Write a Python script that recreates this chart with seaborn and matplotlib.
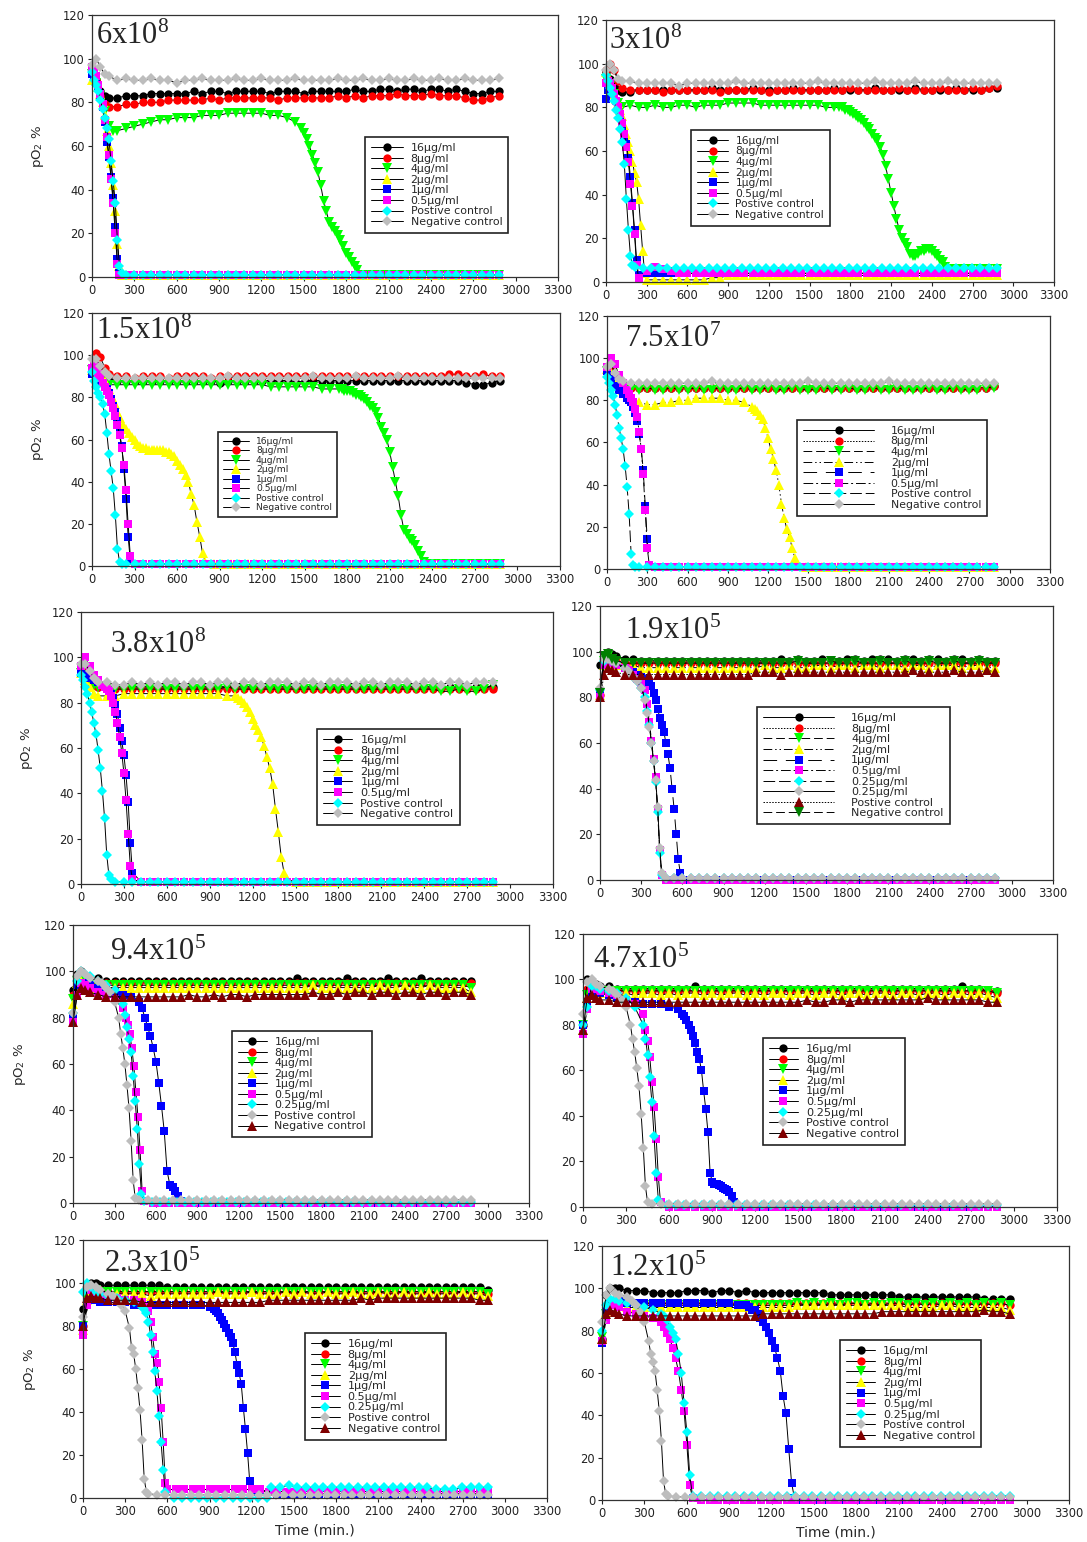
import numpy as np
import pandas as pd
import matplotlib
matplotlib.use("Agg")
import matplotlib.pyplot as plt
import seaborn as sns

# ======================= DATA (time in min, pO2 in %) =======================
# each series: list of segments (t_start, t_end, values sampled evenly in between)
X_TICKS = [0, 300, 600, 900, 1200, 1500, 1800, 2100, 2400, 2700, 3000, 3300]
Y_TICKS = [0, 20, 40, 60, 80, 100, 120]

LABELS_8 = ["16µg/ml", "8µg/ml", "4µg/ml", "2µg/ml", "1µg/ml", "0.5µg/ml",
            "Postive control", "Negative control"]
LABELS_9 = ["16µg/ml", "8µg/ml", "4µg/ml", "2µg/ml", "1µg/ml", "0.5µg/ml",
            "0.25µg/ml", "Postive control", "Negative control"]
LABELS_10 = ["16µg/ml", "8µg/ml", "4µg/ml", "2µg/ml", "1µg/ml", "0.5µg/ml",
             "0.25µg/ml", "0.25µg/ml", "Postive control", "Negative control"]
TITLES = ["6x10$^{8}$", "3x10$^{8}$", "1.5x10$^{8}$", "7.5x10$^{7}$", "3.8x10$^{8}$",
          "1.9x10$^{5}$", "9.4x10$^{5}$", "4.7x10$^{5}$", "2.3x10$^{5}$", "1.2x10$^{5}$"]

# ---------------- Panel 1 : 6x10^8 ----------------
P1_16 = [(0, 120, [95, 90, 85, 83, 82]),
         (180, 2880, [82, 83, 83, 83, 84, 84, 84, 84, 84, 85, 84, 85, 85, 84, 85, 85,
                      85, 85, 84, 85, 85, 85, 84, 85, 85, 85, 85, 85, 86, 85, 85, 86,
                      86, 85, 86, 86, 85, 86, 86, 85, 86, 85, 84, 84, 85, 85])]
P1_8 = [(0, 120, [96, 90, 83, 79, 78]),
        (180, 2880, [78, 79, 79, 80, 80, 80, 81, 81, 81, 81, 81, 82, 81, 82, 82, 82,
                     82, 82, 82, 81, 82, 82, 82, 82, 82, 82, 83, 82, 83, 82, 83, 83,
                     83, 84, 83, 83, 83, 84, 83, 83, 83, 82, 81, 81, 82, 83])]
P1_4 = [(0, 180, [93, 89, 83, 76, 69, 67, 67]),
        (240, 1440, [68, 69, 70, 71, 72, 72, 73, 73, 73, 74, 74, 74, 75, 75, 75, 75, 75, 74, 74, 73, 71]),
        (1480, 1900, [68, 66, 63, 60, 56, 52, 48, 42, 35, 30, 25, 23, 21, 19, 17, 14, 11, 9, 7, 5, 3, 1]),
        (1960, 2880, [1, 1, 1, 1, 1, 1, 1, 1, 1, 1, 1, 1, 1, 1, 1, 1])]
P1_2 = [(0, 210, [90, 91, 90, 87, 84, 80, 74, 67, 60, 52, 42, 30, 15, 5, 1]),
        (240, 2880, [1, 1, 1, 1, 1, 1, 1, 1, 1, 1, 1, 1, 1, 1, 1,
                     1, 1, 1, 1, 1, 1, 1, 1, 1, 1, 1, 1, 1, 1, 1,
                     1, 1, 1, 1, 1, 1, 1, 1, 1, 1, 1, 1, 1, 1, 1])]
P1_1 = [(0, 210, [93, 92, 90, 87, 83, 78, 71, 62, 55, 46, 36, 23, 8, 2, 1]),
        (240, 2880, [1, 1, 1, 1, 1, 1, 1, 1, 1, 1, 1, 1, 1, 1, 1,
                     1, 1, 1, 1, 1, 1, 1, 1, 1, 1, 1, 1, 1, 1, 1,
                     1, 1, 1, 1, 1, 1, 1, 1, 1, 1, 1, 1, 1, 1, 1])]
P1_05 = [(0, 210, [96, 95, 92, 88, 84, 79, 72, 64, 56, 45, 34, 20, 6, 1, 1]),
         (240, 2880, [1, 1, 1, 1, 1, 1, 1, 1, 1, 1, 1, 1, 1, 1, 1,
                      1, 1, 1, 1, 1, 1, 1, 1, 1, 1, 1, 1, 1, 1, 1,
                      1, 1, 1, 1, 1, 1, 1, 1, 1, 1, 1, 1, 1, 1, 1])]
P1_POS = [(0, 210, [94, 90, 88, 85, 81, 77, 73, 68, 63, 53, 44, 34, 17, 5, 2]),
          (240, 2880, [1, 1, 1, 1, 1, 1, 1, 1, 1, 1, 1, 1, 1, 1, 1,
                       1, 1, 1, 1, 1, 1, 1, 1, 1, 1, 1, 1, 1, 1, 1,
                       1, 1, 1, 1, 1, 1, 1, 1, 1, 1, 1, 1, 1, 1, 1])]
P1_NEG = [(0, 120, [97, 100, 96, 93, 92]),
          (180, 2880, [90, 91, 90, 90, 91, 90, 90, 89, 90, 90, 91, 90, 90, 90, 91, 90,
                       90, 91, 90, 90, 90, 91, 90, 90, 90, 90, 91, 90, 90, 91, 90, 90,
                       91, 90, 90, 91, 90, 90, 91, 90, 90, 91, 90, 90, 90, 91])]

# ---------------- Panel 2 : 3x10^8 ----------------
P2_16 = [(0, 120, [96, 93, 90, 88, 87]),
         (180, 2880, [87, 88, 88, 88, 88, 88, 88, 88, 88, 88, 89, 88, 88, 88, 88, 89,
                      88, 88, 88, 88, 89, 88, 88, 88, 88, 89, 88, 88, 88, 88, 89, 88,
                      88, 88, 88, 89, 88, 88, 88, 88, 89, 88, 88, 88, 89, 89])]
P2_8 = [(0, 120, [97, 100, 97, 92, 89]),
        (180, 2880, [88, 88, 88, 88, 87, 88, 88, 88, 88, 88, 88, 87, 88, 88, 88, 88,
                     88, 87, 88, 88, 88, 88, 88, 88, 88, 88, 88, 89, 88, 88, 88, 88,
                     88, 89, 88, 88, 88, 88, 89, 88, 88, 88, 89, 88, 89, 90])]
P2_4 = [(0, 120, [93, 90, 86, 82, 80]),
        (180, 1680, [81, 80, 80, 81, 80, 80, 81, 81, 80, 81, 81, 81, 82, 82, 82, 82,
                     81, 81, 81, 81, 81, 81, 81, 81, 80, 80]),
        (1720, 2500, [80, 80, 79, 79, 78, 77, 76, 75, 74, 73, 71, 70, 68, 66, 65, 62, 58, 53, 47, 41,
                      35, 29, 24, 20, 18, 16, 13, 12, 12, 13, 14, 14, 15, 15, 14, 13, 12, 10, 9, 7]),
        (2560, 2880, [6, 6, 6, 6, 6, 6])]
P2_2 = [(0, 300, [96, 93, 90, 88, 86, 84, 82, 79, 76, 72, 68, 64, 60, 55, 50, 46, 38, 26, 14, 4, 1]),
        (360, 2880, [1, 1, 1, 1, 1, 1, 1, 2, 2, 3, 3, 3, 3, 3, 3, 3, 3, 3, 3, 3, 3, 3,
                     3, 3, 3, 3, 3, 3, 3, 3, 3, 3, 3, 3, 3, 3, 3, 3, 3, 3, 3, 3, 3])]
P2_1 = [(0, 240, [84, 88, 89, 88, 86, 83, 80, 76, 71, 67, 63, 57, 48, 36, 24, 10, 3]),
        (300, 2880, [4, 4, 4, 4, 4, 4, 4, 4, 4, 4, 4, 4, 4, 4, 4, 4, 4, 4, 4, 4, 4, 4,
                     4, 4, 4, 4, 4, 4, 4, 4, 4, 4, 4, 4, 4, 4, 4, 4, 4, 4, 4, 4, 4, 4])]
P2_05 = [(0, 240, [91, 92, 91, 89, 86, 83, 80, 77, 73, 68, 62, 55, 45, 35, 22, 8, 2]),
         (300, 2880, [5, 7, 6, 5, 4, 4, 4, 4, 4, 4, 4, 4, 4, 4, 4, 4, 4, 4, 4, 4, 4, 4,
                      4, 4, 4, 4, 4, 4, 4, 4, 4, 4, 4, 4, 4, 4, 4, 4, 4, 4, 4, 4, 4, 4])]
P2_POS = [(0, 210, [95, 92, 89, 86, 83, 79, 75, 70, 64, 54, 38, 24, 12, 8, 7]),
          (270, 2880, [6.5, 6.5, 6.5, 6.5, 6.5, 6.5, 6.5, 6.5, 6.5, 6.5, 6.5, 6.5, 6.5, 6.5, 6.5,
                       6.5, 6.5, 6.5, 6.5, 6.5, 6.5, 6.5, 6.5, 6.5, 6.5, 6.5, 6.5, 6.5, 6.5, 6.5,
                       6.5, 6.5, 6.5, 6.5, 6.5, 6.5, 6.5, 6.5, 6.5, 6.5, 6.5, 6.5, 6.5, 6.5])]
P2_NEG = [(0, 120, [97, 100, 97, 93, 92]),
          (180, 2880, [92, 91, 91, 91, 91, 91, 90, 91, 91, 91, 91, 91, 91, 92, 91, 91,
                       91, 91, 91, 91, 91, 91, 91, 92, 91, 91, 91, 91, 91, 91, 92, 91,
                       91, 91, 91, 92, 91, 91, 91, 92, 91, 91, 91, 91, 91, 91])]

# ---------------- Panel 3 : 1.5x10^8 ----------------
P3_16 = [(0, 120, [92, 94, 92, 90, 89]),
         (180, 2880, [88, 88, 88, 88, 88, 88, 88, 88, 88, 88, 88, 88, 87, 88, 88, 88,
                      88, 88, 88, 88, 88, 87, 88, 88, 88, 88, 88, 88, 88, 88, 88, 88,
                      88, 88, 88, 88, 88, 88, 88, 88, 88, 87, 86, 86, 87, 88])]
P3_8 = [(0, 120, [94, 101, 99, 94, 91]),
        (180, 2880, [90, 90, 89, 90, 90, 90, 89, 90, 90, 90, 90, 89, 90, 90, 90, 90,
                     90, 90, 90, 90, 90, 90, 90, 90, 90, 90, 90, 90, 90, 90, 90, 90,
                     90, 90, 90, 90, 90, 90, 90, 91, 91, 90, 90, 91, 90, 90])]
P3_4 = [(0, 120, [93, 91, 89, 87, 86]),
        (180, 1740, [86, 86, 86, 86, 86, 86, 86, 86, 86, 86, 86, 86, 86, 86, 86, 86,
                     86, 86, 85, 85, 85, 85, 85, 85, 84, 84, 84]),
        (1760, 2340, [84, 83, 83, 83, 82, 81, 81, 80, 79, 78, 76, 75, 73, 70, 66,
                      63, 60, 54, 47, 40, 33, 24, 17, 15, 13, 12, 10, 7, 5, 2]),
        (2400, 2880, [1, 1, 1, 1, 1, 1, 1, 1, 1])]
P3_2 = [(0, 120, [93, 92, 90, 88, 84]),
        (140, 800, [80, 77, 73, 70, 67, 65, 63, 61, 60, 58, 57, 56, 56, 55, 55, 55, 55,
                    55, 55, 54, 54, 53, 52, 50, 48, 46, 43, 40, 34, 29, 21, 14, 6, 2]),
        (860, 2880, [1, 1, 1, 1, 1, 1, 1, 1, 1, 1, 1, 1, 1, 1, 1, 1, 1, 1,
                     1, 1, 1, 1, 1, 1, 1, 1, 1, 1, 1, 1, 1, 1, 1, 1, 1])]
P3_1 = [(0, 270, [91, 92, 91, 90, 88, 87, 85, 84, 82, 79, 76, 73, 69, 63, 57, 46, 32, 14, 3]),
        (300, 2880, [1, 1, 1, 1, 1, 1, 1, 1, 1, 1, 1, 1, 1, 1, 1, 1, 1, 1, 1, 1, 1, 1,
                     1, 1, 1, 1, 1, 1, 1, 1, 1, 1, 1, 1, 1, 1, 1, 1, 1, 1, 1, 1, 1, 1])]
P3_05 = [(0, 270, [94, 96, 94, 91, 89, 87, 85, 83, 81, 78, 75, 71, 67, 62, 56, 48, 36, 20, 5]),
         (300, 2880, [1, 1, 1, 1, 1, 1, 1, 1, 1, 1, 1, 1, 1, 1, 1, 1, 1, 1, 1, 1, 1, 1,
                      1, 1, 1, 1, 1, 1, 1, 1, 1, 1, 1, 1, 1, 1, 1, 1, 1, 1, 1, 1, 1, 1])]
P3_POS = [(0, 210, [92, 88, 85, 82, 80, 77, 72, 63, 53, 45, 37, 24, 8, 2, 1]),
          (240, 2880, [1, 1, 1, 1, 1, 1, 1, 1, 1, 1, 1, 1, 1, 1, 1,
                       1, 1, 1, 1, 1, 1, 1, 1, 1, 1, 1, 1, 1, 1, 1,
                       1, 1, 1, 1, 1, 1, 1, 1, 1, 1, 1, 1, 1, 1, 1])]
P3_NEG = [(0, 120, [98, 98, 95, 92, 90]),
          (180, 2880, [89, 89, 89, 89, 89, 89, 89, 89, 89, 89, 89, 89, 89, 90, 89, 89,
                       89, 89, 89, 89, 89, 89, 89, 90, 89, 89, 89, 89, 90, 89, 89, 89,
                       89, 90, 89, 89, 89, 89, 89, 89, 89, 89, 89, 89, 89, 89])]

# ---------------- Panel 4 : 7.5x10^7 ----------------
P4_16 = [(0, 120, [95, 93, 90, 88, 87]),
         (180, 2880, [87, 86, 86, 86, 86, 86, 86, 86, 86, 86, 86, 86, 86, 86, 86, 86,
                      86, 86, 86, 86, 86, 86, 86, 86, 86, 86, 86, 86, 86, 86, 86, 86,
                      86, 86, 86, 86, 86, 86, 86, 86, 86, 86, 86, 86, 86, 87])]
P4_8 = [(0, 120, [95, 96, 92, 89, 87]),
        (180, 2880, [86, 86, 86, 86, 86, 86, 86, 86, 86, 86, 86, 86, 86, 86, 86, 86,
                     86, 86, 86, 86, 86, 86, 86, 86, 86, 86, 86, 86, 86, 86, 86, 86,
                     86, 86, 86, 86, 86, 86, 86, 86, 86, 86, 86, 86, 86, 87])]
P4_4 = [(0, 120, [94, 92, 89, 87, 86]),
        (180, 2880, [85, 85, 86, 85, 85, 86, 85, 85, 86, 85, 85, 86, 85, 85, 86, 85,
                     85, 86, 85, 85, 86, 85, 85, 85, 86, 85, 85, 86, 85, 85, 86, 85,
                     85, 86, 85, 85, 85, 86, 85, 85, 86, 85, 85, 85, 86, 86])]
P4_2 = [(0, 120, [95, 93, 90, 87, 85]),
        (180, 1080, [81, 79, 78, 78, 79, 79, 80, 80, 81, 81, 81, 81, 80, 80, 79, 77]),
        (1100, 1420, [76, 75, 73, 71, 67, 62, 57, 52, 47, 40, 31, 24, 19, 15, 10, 5, 2]),
        (1480, 2880, [1, 1, 1, 1, 1, 1, 1, 1, 1, 1, 1, 1, 1, 1, 1, 1, 1, 1, 1, 1, 1, 1, 1, 1])]
P4_1 = [(0, 120, [94, 90, 87, 85, 83]),
        (150, 315, [81, 80, 79, 77, 74, 70, 64, 57, 47, 30, 14, 2]),
        (360, 2880, [1, 1, 1, 1, 1, 1, 1, 1, 1, 1, 1, 1, 1, 1, 1, 1, 1, 1, 1, 1, 1, 1,
                     1, 1, 1, 1, 1, 1, 1, 1, 1, 1, 1, 1, 1, 1, 1, 1, 1, 1, 1, 1, 1])]
P4_05 = [(0, 120, [96, 100, 97, 92, 88]),
         (150, 315, [85, 83, 81, 79, 76, 72, 65, 57, 45, 28, 10, 2]),
         (360, 2880, [1, 1, 1, 1, 1, 1, 1, 1, 1, 1, 1, 1, 1, 1, 1, 1, 1, 1, 1, 1, 1, 1,
                      1, 1, 1, 1, 1, 1, 1, 1, 1, 1, 1, 1, 1, 1, 1, 1, 1, 1, 1, 1, 1])]
P4_POS = [(0, 210, [91, 88, 85, 82, 78, 73, 67, 62, 57, 49, 39, 26, 7, 2, 1]),
          (240, 2880, [1, 1, 1, 1, 1, 1, 1, 1, 1, 1, 1, 1, 1, 1, 1,
                       1, 1, 1, 1, 1, 1, 1, 1, 1, 1, 1, 1, 1, 1, 1,
                       1, 1, 1, 1, 1, 1, 1, 1, 1, 1, 1, 1, 1, 1, 1])]
P4_NEG = [(0, 120, [96, 97, 93, 90, 89]),
          (180, 2880, [88, 88, 88, 88, 88, 88, 88, 88, 88, 88, 89, 88, 88, 88, 88, 88,
                       88, 88, 88, 88, 88, 88, 89, 88, 88, 88, 88, 88, 88, 88, 88, 88,
                       89, 88, 88, 88, 88, 88, 88, 88, 88, 88, 88, 88, 88, 88])]

# ---------------- Panel 5 : 3.8x10^8 ----------------
P5_16 = [(0, 120, [94, 92, 90, 88, 87]),
         (180, 2880, [87, 87, 87, 87, 87, 87, 87, 87, 87, 87, 87, 87, 87, 87, 87, 87,
                      87, 87, 87, 87, 87, 87, 87, 87, 87, 87, 87, 87, 87, 87, 87, 87,
                      87, 87, 87, 87, 87, 87, 87, 87, 87, 87, 87, 87, 87, 87])]
P5_8 = [(0, 120, [95, 94, 91, 88, 87]),
        (180, 2880, [86, 86, 86, 86, 86, 86, 86, 86, 86, 86, 86, 86, 86, 86, 86, 86,
                     86, 86, 86, 86, 86, 86, 86, 86, 86, 86, 86, 86, 86, 86, 86, 86,
                     86, 86, 86, 86, 86, 86, 86, 86, 86, 86, 86, 86, 86, 86])]
P5_4 = [(0, 120, [93, 92, 90, 88, 87]),
        (180, 2880, [86, 86, 86, 86, 86, 86, 86, 86, 86, 86, 86, 86, 86, 86, 87, 86,
                     86, 86, 86, 86, 86, 86, 86, 86, 86, 86, 86, 86, 86, 86, 86, 86,
                     86, 86, 86, 86, 86, 86, 86, 85, 85, 86, 85, 85, 86, 88])]
P5_2 = [(0, 120, [93, 90, 87, 84, 83]),
        (180, 1080, [83, 83, 84, 84, 84, 84, 84, 84, 84, 84, 84, 84, 84, 84, 83, 83]),
        (1100, 1440, [82, 81, 80, 78, 76, 73, 70, 68, 65, 61, 56, 51, 44, 33, 23, 12, 5, 2]),
        (1500, 2880, [1, 1, 1, 1, 1, 1, 1, 1, 1, 1, 1, 1, 1, 1, 1, 1, 1, 1, 1, 1, 1, 1, 1, 1])]
P5_1 = [(0, 120, [93, 92, 91, 90, 89]),
        (150, 360, [88, 87, 86, 85, 84, 82, 79, 75, 69, 63, 57, 48, 36, 18, 5]),
        (420, 2880, [1, 1, 1, 1, 1, 1, 1, 1, 1, 1, 1, 1, 1, 1, 1, 1, 1, 1, 1, 1, 1,
                     1, 1, 1, 1, 1, 1, 1, 1, 1, 1, 1, 1, 1, 1, 1, 1, 1, 1, 1, 1, 1])]
P5_05 = [(0, 120, [96, 100, 96, 92, 90]),
         (150, 360, [88, 87, 86, 85, 83, 80, 76, 71, 65, 58, 49, 37, 22, 8, 2]),
         (420, 2880, [1, 1, 1, 1, 1, 1, 1, 1, 1, 1, 1, 1, 1, 1, 1, 1, 1, 1, 1, 1, 1,
                      1, 1, 1, 1, 1, 1, 1, 1, 1, 1, 1, 1, 1, 1, 1, 1, 1, 1, 1, 1, 1])]
P5_POS = [(0, 210, [92, 90, 87, 84, 80, 76, 71, 66, 59, 51, 41, 29, 13, 4, 2]),
          (240, 2880, [1, 1, 1, 1, 1, 1, 1, 1, 1, 1, 1, 1, 1, 1, 1,
                       1, 1, 1, 1, 1, 1, 1, 1, 1, 1, 1, 1, 1, 1, 1,
                       1, 1, 1, 1, 1, 1, 1, 1, 1, 1, 1, 1, 1, 1, 1])]
P5_NEG = [(0, 120, [97, 97, 94, 91, 89]),
          (180, 2880, [89, 88, 88, 89, 88, 89, 88, 89, 89, 88, 89, 89, 88, 89, 89, 88,
                       89, 89, 88, 89, 89, 89, 88, 89, 89, 88, 89, 89, 89, 88, 89, 89,
                       88, 89, 89, 89, 88, 89, 89, 88, 89, 89, 88, 89, 89, 89])]

# ---------------- Panel 6 : 1.9x10^5 ----------------
P6_16 = [(0, 120, [94, 97, 100, 99, 98]),
         (180, 2880, [97, 97, 96, 96, 96, 96, 96, 96, 96, 96, 96, 96, 96, 96, 96, 96,
                      96, 96, 96, 97, 96, 97, 96, 96, 97, 96, 96, 97, 97, 96, 97, 97,
                      97, 96, 97, 97, 96, 97, 97, 96, 97, 97, 96, 97, 96, 96])]
P6_8 = [(0, 120, [81, 96, 98, 97, 96]),
        (180, 2880, [95, 95, 95, 95, 95, 95, 95, 95, 95, 95, 95, 95, 95, 95, 95, 95,
                     95, 95, 95, 95, 95, 95, 95, 95, 95, 95, 95, 95, 95, 95, 95, 95,
                     95, 95, 95, 95, 95, 95, 95, 95, 95, 95, 95, 95, 95, 95])]
P6_4 = [(0, 120, [82, 96, 98, 97, 96]),
        (180, 2880, [95, 95, 95, 95, 95, 95, 95, 95, 95, 95, 95, 95, 95, 95, 95, 95,
                     95, 95, 95, 95, 95, 95, 95, 95, 95, 95, 95, 95, 95, 95, 95, 95,
                     95, 95, 95, 95, 95, 95, 95, 95, 95, 95, 95, 95, 95, 95])]
P6_2 = [(0, 120, [81, 94, 96, 95, 94]),
        (180, 2880, [94, 94, 93, 93, 93, 93, 93, 93, 93, 93, 93, 93, 93, 93, 93, 93,
                     93, 94, 93, 93, 94, 93, 93, 94, 94, 93, 94, 94, 93, 94, 94, 93,
                     94, 94, 93, 94, 94, 93, 94, 94, 94, 93, 94, 94, 93, 93])]
P6_1 = [(0, 120, [81, 95, 96, 95, 94]),
        (180, 360, [93, 92, 91, 90, 89, 88, 86]),
        (375, 585, [85, 82, 79, 75, 71, 68, 65, 60, 55, 49, 40, 31, 20, 9, 3]),
        (645, 2880, [0, 0, 0, 0, 0, 0, 0, 0, 0, 0, 0, 0, 0, 0, 0, 0, 0, 0, 0,
                     0, 0, 0, 0, 0, 0, 0, 0, 0, 0, 0, 0, 0, 0, 0, 0, 0, 0, 0])]
P6_05 = [(0, 120, [80, 94, 96, 95, 94]),
         (180, 330, [93, 92, 90, 88, 86, 83]),
         (345, 450, [77, 69, 61, 53, 45, 31, 13, 2]),
         (480, 2880, [0, 0, 0, 0, 0, 0, 0, 0, 0, 0, 0, 0, 0, 0, 0, 0, 0, 0, 0, 0, 0,
                      0, 0, 0, 0, 0, 0, 0, 0, 0, 0, 0, 0, 0, 0, 0, 0, 0, 0, 0, 0])]
P6_025A = [(0, 120, [83, 96, 97, 96, 95]),
           (180, 330, [93, 91, 89, 87, 84, 80]),
           (345, 450, [74, 68, 60, 52, 43, 30, 12, 2]),
           (480, 2880, [1, 1, 1, 1, 1, 1, 1, 1, 1, 1, 1, 1, 1, 1, 1, 1, 1, 1, 1, 1, 1,
                        1, 1, 1, 1, 1, 1, 1, 1, 1, 1, 1, 1, 1, 1, 1, 1, 1, 1, 1, 1])]
P6_025B = [(0, 120, [84, 97, 97, 96, 95]),
           (180, 330, [93, 91, 89, 87, 84, 79]),
           (345, 450, [73, 67, 60, 52, 44, 32, 14, 3]),
           (480, 2880, [1, 1, 1, 1, 1, 1, 1, 1, 1, 1, 1, 1, 1, 1, 1, 1, 1, 1, 1, 1, 1,
                        1, 1, 1, 1, 1, 1, 1, 1, 1, 1, 1, 1, 1, 1, 1, 1, 1, 1, 1, 1])]
P6_POS = [(0, 120, [80, 90, 93, 92, 91]),
          (180, 2880, [90, 90, 90, 90, 90, 90, 90, 90, 90, 90, 90, 90, 90, 90, 90, 90,
                       91, 91, 91, 90, 91, 91, 91, 91, 91, 91, 91, 91, 91, 91, 91, 91,
                       91, 91, 91, 92, 91, 91, 91, 91, 92, 91, 91, 91, 92, 91])]
P6_NEG = [(0, 120, [82, 98, 99, 97, 96]),
          (180, 2880, [95, 95, 95, 95, 95, 95, 95, 95, 95, 95, 95, 95, 95, 95, 95, 95,
                       95, 95, 95, 95, 95, 96, 95, 95, 95, 96, 95, 95, 96, 95, 95, 96,
                       95, 95, 96, 95, 95, 96, 95, 95, 96, 95, 95, 96, 95, 95])]

# ---------------- Panel 7 : 9.4x10^5 ----------------
P7_16 = [(0, 120, [92, 99, 100, 98, 97]),
         (180, 2880, [97, 96, 96, 96, 96, 96, 96, 96, 96, 96, 96, 96, 96, 96, 96, 96,
                      96, 96, 96, 96, 96, 96, 96, 96, 97, 96, 96, 96, 96, 96, 97, 96,
                      96, 96, 96, 97, 96, 96, 96, 97, 96, 96, 96, 96, 96, 96])]
P7_8 = [(0, 120, [90, 97, 98, 96, 95]),
        (180, 2880, [95, 95, 95, 95, 95, 95, 95, 95, 95, 95, 95, 95, 95, 95, 95, 95,
                     95, 95, 95, 95, 95, 95, 95, 95, 95, 95, 95, 95, 95, 95, 95, 95,
                     95, 95, 95, 95, 95, 95, 95, 95, 95, 95, 95, 95, 95, 95])]
P7_4 = [(0, 120, [88, 96, 97, 95, 94]),
        (180, 2880, [94, 94, 94, 94, 94, 94, 94, 94, 94, 94, 94, 94, 94, 94, 94, 94,
                     94, 94, 94, 94, 94, 94, 94, 94, 94, 94, 94, 94, 94, 94, 94, 94,
                     94, 94, 94, 94, 94, 94, 94, 94, 94, 94, 94, 94, 94, 93])]
P7_2 = [(0, 120, [86, 95, 96, 94, 93]),
        (180, 2880, [93, 93, 93, 93, 93, 93, 93, 93, 93, 93, 93, 93, 93, 93, 93, 93,
                     93, 93, 93, 93, 93, 93, 93, 93, 93, 93, 94, 93, 93, 93, 93, 93,
                     93, 93, 94, 93, 93, 94, 93, 93, 94, 93, 93, 93, 93, 91])]
P7_1 = [(0, 120, [80, 94, 95, 95, 94]),
        (180, 480, [93, 92, 91, 90, 89, 87]),
        (500, 780, [84, 80, 76, 72, 67, 61, 52, 42, 31, 14, 8, 7, 5, 3, 1]),
        (840, 2880, [0, 0, 0, 0, 0, 0, 0, 0, 0, 0, 0, 0, 0, 0, 0, 0, 0, 0,
                     0, 0, 0, 0, 0, 0, 0, 0, 0, 0, 0, 0, 0, 0, 0, 0, 0])]
P7_05 = [(0, 120, [78, 90, 95, 94, 93]),
         (180, 360, [91, 90, 88, 84]),
         (380, 515, [80, 77, 73, 67, 59, 48, 37, 23, 5, 1]),
         (575, 2880, [0, 0, 0, 0, 0, 0, 0, 0, 0, 0, 0, 0, 0, 0, 0, 0, 0, 0, 0, 0,
                      0, 0, 0, 0, 0, 0, 0, 0, 0, 0, 0, 0, 0, 0, 0, 0, 0, 0, 0])]
P7_025 = [(0, 120, [82, 96, 100, 99, 98]),
          (180, 360, [96, 94, 92, 86]),
          (375, 510, [81, 76, 71, 65, 55, 44, 32, 17, 4, 1]),
          (570, 2880, [0.5, 0.5, 0.5, 0.5, 0.5, 0.5, 0.5, 0.5, 0.5, 0.5, 0.5, 0.5, 0.5,
                       0.5, 0.5, 0.5, 0.5, 0.5, 0.5, 0.5, 0.5, 0.5, 0.5, 0.5, 0.5, 0.5,
                       0.5, 0.5, 0.5, 0.5, 0.5, 0.5, 0.5, 0.5, 0.5, 0.5, 0.5, 0.5, 0.5])]
P7_POS = [(0, 120, [82, 98, 100, 99, 97]),
          (180, 330, [96, 95, 93, 91, 87, 80]),
          (345, 450, [73, 67, 60, 51, 41, 27, 10, 2]),
          (480, 2880, [1.5, 1.5, 1.5, 1.5, 1.5, 1.5, 1.5, 1.5, 1.5, 1.5, 1.5, 1.5, 1.5, 1.5,
                       1.5, 1.5, 1.5, 1.5, 1.5, 1.5, 1.5, 1.5, 1.5, 1.5, 1.5, 1.5, 1.5, 1.5,
                       1.5, 1.5, 1.5, 1.5, 1.5, 1.5, 1.5, 1.5, 1.5, 1.5, 1.5, 1.5, 1.5])]
P7_NEG = [(0, 120, [78, 90, 93, 92, 91]),
          (180, 2880, [90, 89, 89, 89, 89, 89, 89, 89, 89, 89, 89, 90, 89, 89, 90, 89,
                       90, 90, 89, 90, 90, 90, 90, 90, 90, 90, 91, 90, 90, 91, 90, 91,
                       91, 90, 91, 91, 90, 91, 91, 90, 91, 91, 90, 91, 91, 90])]

# ---------------- Panel 8 : 4.7x10^5 ----------------
P8_16 = [(0, 120, [80, 100, 99, 98, 97]),
         (180, 2880, [97, 96, 96, 96, 96, 96, 96, 96, 96, 96, 97, 96, 96, 96, 96, 96,
                      96, 96, 96, 96, 96, 96, 96, 96, 96, 96, 96, 96, 96, 96, 96, 96,
                      96, 96, 96, 96, 96, 96, 96, 96, 96, 97, 96, 96, 95, 95])]
P8_8 = [(0, 120, [80, 96, 97, 96, 96]),
        (180, 2880, [95, 95, 95, 95, 95, 95, 95, 95, 95, 95, 95, 95, 95, 95, 95, 95,
                     95, 95, 95, 95, 95, 95, 95, 95, 95, 95, 95, 95, 95, 95, 95, 95,
                     95, 95, 95, 95, 95, 95, 95, 95, 95, 95, 95, 95, 95, 94])]
P8_4 = [(0, 120, [80, 93, 96, 96, 95]),
        (180, 2880, [95, 95, 95, 95, 95, 95, 95, 95, 95, 95, 95, 95, 95, 95, 95, 95,
                     95, 95, 95, 95, 95, 95, 95, 95, 95, 95, 95, 95, 95, 95, 95, 95,
                     95, 95, 95, 95, 95, 95, 95, 95, 95, 95, 95, 95, 95, 94])]
P8_2 = [(0, 120, [78, 92, 95, 95, 94]),
        (180, 2880, [94, 93, 94, 93, 94, 94, 93, 94, 93, 94, 94, 93, 94, 93, 94, 94,
                     93, 94, 93, 94, 94, 93, 94, 94, 93, 94, 94, 93, 94, 94, 93, 94,
                     94, 93, 94, 94, 93, 94, 94, 93, 94, 94, 93, 94, 93, 92])]
P8_1 = [(0, 120, [80, 90, 94, 94, 94]),
        (180, 660, [93, 92, 91, 90, 89, 89, 89, 88, 87]),
        (690, 1050, [85, 84, 82, 80, 78, 75, 72, 68, 65, 60, 51, 43, 33, 15, 11, 10, 10,
                     9.5, 9, 8.5, 8, 7.5, 6.5, 5, 2]),
        (1110, 2880, [0, 0, 0, 0, 0, 0, 0, 0, 0, 0, 0, 0, 0, 0, 0,
                      0, 0, 0, 0, 0, 0, 0, 0, 0, 0, 0, 0, 0, 0, 0])]
P8_05 = [(0, 120, [76, 87, 96, 96, 95]),
         (180, 420, [94, 93, 91, 89, 85]),
         (435, 540, [78, 73, 66, 55, 44, 30, 13, 2]),
         (600, 2880, [0, 0, 0, 0, 0, 0, 0, 0, 0, 0, 0, 0, 0, 0, 0, 0, 0, 0, 0, 0,
                      0, 0, 0, 0, 0, 0, 0, 0, 0, 0, 0, 0, 0, 0, 0, 0, 0, 0, 0])]
P8_025 = [(0, 120, [80, 88, 97, 97, 96]),
          (180, 420, [95, 94, 92, 88, 80]),
          (435, 525, [74, 67, 57, 46, 31, 15, 3]),
          (585, 2880, [1, 1, 1, 1, 1, 1, 1, 1, 1, 1, 1, 1, 1, 1, 1, 1, 1, 1, 1, 1,
                       1, 1, 1, 1, 1, 1, 1, 1, 1, 1, 1, 1, 1, 1, 1, 1, 1, 1, 1])]
P8_POS = [(0, 120, [85, 99, 100, 98, 97]),
          (180, 330, [96, 95, 93, 91, 88, 80]),
          (345, 450, [74, 68, 61, 53, 41, 26, 9, 2]),
          (480, 2880, [1.5, 1.5, 1.5, 1.5, 1.5, 1.5, 1.5, 1.5, 1.5, 1.5, 1.5, 1.5, 1.5, 1.5,
                       1.5, 1.5, 1.5, 1.5, 1.5, 1.5, 1.5, 1.5, 1.5, 1.5, 1.5, 1.5, 1.5, 1.5,
                       1.5, 1.5, 1.5, 1.5, 1.5, 1.5, 1.5, 1.5, 1.5, 1.5, 1.5, 1.5, 1.5])]
P8_NEG = [(0, 120, [78, 92, 93, 92, 91]),
          (180, 2880, [91, 90, 90, 90, 90, 90, 90, 90, 90, 90, 90, 90, 90, 90, 90, 90,
                       90, 90, 90, 90, 90, 90, 90, 91, 90, 90, 91, 91, 90, 91, 91, 91,
                       91, 91, 91, 91, 91, 92, 91, 91, 91, 91, 91, 91, 90, 90])]

# ---------------- Panel 9 : 2.3x10^5 ----------------
P9_16 = [(0, 120, [88, 98, 100, 100, 99]),
         (180, 2880, [99, 99, 99, 99, 99, 99, 99, 98, 98, 98, 98, 98, 98, 98, 98, 98,
                      98, 98, 98, 98, 98, 98, 98, 98, 98, 98, 98, 98, 98, 98, 98, 98,
                      98, 98, 98, 98, 98, 98, 98, 98, 98, 98, 98, 98, 98, 97])]
P9_8 = [(0, 120, [80, 94, 98, 97, 97]),
        (180, 2880, [96, 96, 96, 96, 96, 96, 96, 96, 96, 96, 96, 96, 96, 96, 96, 96,
                     96, 96, 96, 96, 96, 96, 96, 96, 96, 96, 96, 96, 96, 96, 96, 96,
                     96, 96, 96, 96, 96, 96, 96, 96, 96, 96, 96, 96, 96, 95])]
P9_4 = [(0, 120, [80, 93, 97, 97, 96]),
        (180, 2880, [96, 96, 96, 96, 96, 96, 96, 96, 96, 96, 96, 96, 96, 96, 96, 96,
                     96, 96, 96, 96, 96, 96, 96, 96, 96, 96, 96, 96, 96, 96, 96, 96,
                     96, 96, 96, 96, 96, 96, 96, 96, 96, 96, 96, 96, 96, 95])]
P9_2 = [(0, 120, [78, 92, 96, 96, 95]),
        (180, 2880, [95, 95, 95, 95, 95, 94, 95, 95, 95, 95, 95, 95, 95, 96, 95, 95,
                     95, 96, 95, 95, 95, 96, 95, 96, 95, 95, 96, 95, 95, 96, 95, 95,
                     96, 95, 95, 96, 95, 95, 96, 95, 95, 95, 96, 95, 95, 94])]
P9_1 = [(0, 120, [80, 91, 92, 92, 91]),
        (180, 900, [91, 91, 91, 90, 90, 90, 90, 90, 90, 90, 90, 90, 89]),
        (930, 1200, [88, 87, 86, 84, 83, 81, 79, 77, 75, 72, 68, 62, 58, 53, 42, 32, 21, 8, 3]),
        (1260, 2880, [3, 3, 2, 2, 2, 2, 2, 2, 2, 2, 2, 2, 2, 2,
                      2, 2, 2, 2, 2, 2, 2, 2, 2, 2, 2, 2, 2, 2])]
P9_05 = [(0, 120, [76, 90, 97, 96, 95]),
         (180, 420, [94, 93, 92, 92, 91]),
         (450, 600, [89, 87, 82, 75, 67, 63, 54, 42, 26, 7, 4]),
         (660, 2880, [4, 4, 4, 4, 4, 4, 4, 4, 4, 4, 4, 3, 3, 3, 3, 3, 3, 3, 3,
                      3, 3, 3, 3, 3, 3, 3, 3, 3, 3, 3, 3, 3, 3, 3, 3, 3, 3, 3])]
P9_025 = [(0, 120, [96, 100, 98, 96, 95]),
          (180, 420, [94, 93, 92, 91, 89]),
          (435, 585, [88, 86, 82, 76, 68, 59, 50, 38, 26, 13, 3]),
          (645, 1305, [0, 0, 0, 0, 0, 0, 0, 0, 0, 0, 0, 0]),
          (1340, 2880, [5, 5, 6, 5, 5, 5, 5, 5, 5, 5, 5, 5, 5,
                        5, 5, 5, 5, 5, 5, 4, 4, 4, 5, 5, 5, 5])]
P9_POS = [(0, 120, [84, 98, 99, 98, 97]),
          (180, 330, [95, 94, 92, 90, 87, 79]),
          (345, 465, [70, 67, 60, 51, 41, 27, 9, 3, 2]),
          (525, 2880, [1.5, 1.5, 1.5, 1.5, 1.5, 1.5, 1.5, 1.5, 1.5, 1.5, 1.5, 1.5, 1.5, 1.5,
                       1.5, 1.5, 1.5, 1.5, 1.5, 1.5, 1.5, 1.5, 1.5, 1.5, 1.5, 1.5, 1.5,
                       1.5, 1.5, 1.5, 1.5, 1.5, 1.5, 1.5, 1.5, 1.5, 1.5, 1.5, 1.5, 1.5])]
P9_NEG = [(0, 120, [80, 93, 94, 93, 93]),
          (180, 2880, [92, 92, 92, 92, 91, 91, 91, 91, 91, 91, 91, 91, 91, 91, 91, 91,
                       91, 91, 91, 92, 92, 92, 92, 92, 92, 92, 92, 92, 92, 92, 93, 92,
                       93, 93, 93, 93, 93, 93, 93, 93, 93, 93, 93, 93, 92, 92])]

# ---------------- Panel 10 : 1.2x10^5 ----------------
P10_16 = [(0, 120, [76, 97, 100, 100, 100]),
          (180, 2880, [99, 99, 99, 98, 98, 98, 98, 99, 99, 99, 98, 99, 99, 98, 99, 98,
                       98, 98, 98, 98, 98, 98, 98, 98, 97, 97, 97, 97, 97, 97, 97, 97,
                       96, 96, 96, 96, 96, 96, 96, 96, 96, 96, 95, 95, 95, 95])]
P10_8 = [(0, 120, [75, 88, 93, 94, 94]),
         (180, 2880, [93, 93, 93, 93, 93, 93, 93, 93, 93, 93, 93, 93, 93, 93, 93, 93,
                      93, 93, 93, 93, 93, 93, 93, 93, 93, 93, 93, 93, 93, 93, 93, 93,
                      93, 93, 93, 93, 93, 93, 93, 93, 93, 93, 93, 93, 93, 92])]
P10_4 = [(0, 120, [77, 88, 92, 93, 93]),
         (180, 2880, [92, 92, 92, 92, 92, 92, 92, 92, 92, 92, 92, 92, 92, 92, 92, 92,
                      92, 92, 92, 92, 93, 92, 93, 92, 93, 92, 93, 93, 92, 93, 92, 93,
                      93, 92, 93, 92, 93, 92, 93, 92, 93, 92, 93, 92, 93, 92])]
P10_2 = [(0, 120, [76, 89, 93, 93, 92]),
         (180, 2880, [91, 91, 91, 91, 91, 91, 91, 91, 91, 91, 91, 91, 91, 91, 91, 91,
                      91, 91, 91, 91, 92, 92, 92, 92, 92, 92, 92, 92, 92, 92, 92, 92,
                      92, 91, 91, 91, 91, 92, 92, 91, 91, 91, 91, 91, 91, 90])]
P10_1 = [(0, 120, [74, 90, 94, 94, 94]),
         (180, 1020, [93, 93, 93, 93, 93, 93, 93, 93, 93, 93, 93, 93, 93, 92, 92]),
         (1040, 1360, [91, 90, 90, 88, 86, 84, 82, 79, 75, 72, 67, 61, 49, 41, 24, 8, 1]),
         (1420, 2880, [0, 0, 0, 0, 0, 0, 0, 0, 0, 0, 0, 0, 0,
                       0, 0, 0, 0, 0, 0, 0, 0, 0, 0, 0, 0])]
P10_05 = [(0, 120, [75, 85, 92, 92, 91]),
          (180, 420, [89, 88, 87, 86, 84]),
          (440, 640, [82, 79, 76, 72, 67, 61, 52, 42, 26, 7, 1]),
          (700, 2880, [0, 0, 0, 0, 0, 0, 0, 0, 0, 0, 0, 0, 0, 0, 0, 0, 0, 0, 0,
                       0, 0, 0, 0, 0, 0, 0, 0, 0, 0, 0, 0, 0, 0, 0, 0, 0, 0])]
P10_025 = [(0, 120, [80, 92, 95, 95, 94]),
           (180, 420, [93, 92, 91, 90, 88]),
           (440, 640, [87, 85, 82, 79, 76, 69, 60, 46, 32, 12, 2]),
           (700, 2880, [2, 2, 2, 2, 2, 2, 2, 2, 2, 2, 2, 2, 2, 2, 2, 2, 2, 2, 2,
                        2, 2, 2, 2, 2, 2, 2, 2, 2, 2, 2, 2, 2, 2, 2, 2, 2, 2])]
P10_POS = [(0, 120, [84, 97, 100, 98, 97]),
           (180, 330, [96, 94, 92, 89, 84, 75]),
           (345, 465, [69, 65, 61, 52, 42, 28, 9, 3, 2]),
           (525, 2880, [1.5, 1.5, 1.5, 1.5, 1.5, 1.5, 1.5, 1.5, 1.5, 1.5, 1.5, 1.5, 1.5, 1.5,
                        1.5, 1.5, 1.5, 1.5, 1.5, 1.5, 1.5, 1.5, 1.5, 1.5, 1.5, 1.5, 1.5,
                        1.5, 1.5, 1.5, 1.5, 1.5, 1.5, 1.5, 1.5, 1.5, 1.5, 1.5, 1.5, 1.5])]
P10_NEG = [(0, 120, [76, 88, 90, 89, 88]),
           (180, 2880, [87, 87, 87, 87, 87, 87, 87, 87, 87, 87, 87, 87, 87, 87, 87, 87,
                        88, 88, 88, 88, 88, 88, 88, 88, 88, 88, 88, 88, 88, 88, 89, 89,
                        89, 89, 89, 89, 89, 89, 89, 89, 89, 89, 90, 89, 89, 88])]

# ======================= STYLES =======================
BLACK, RED, GREEN, YELLOW = "#000000", "#FF0000", "#00FF00", "#FFFF00"
BLUE, MAGENTA, CYAN, GRAY = "#0000FF", "#FF00FF", "#00FFFF", "#BDBDBD"
DKRED, DKGREEN = "#800000", "#008000"

STYLE_8 = [("o", BLACK), ("o", RED), ("v", GREEN), ("^", YELLOW), ("s", BLUE),
           ("s", MAGENTA), ("D", CYAN), ("D", GRAY)]
STYLE_9 = [("o", BLACK), ("o", RED), ("v", GREEN), ("^", YELLOW), ("s", BLUE),
           ("s", MAGENTA), ("D", CYAN), ("D", GRAY), ("^", DKRED)]
STYLE_10 = [("o", BLACK), ("o", RED), ("v", GREEN), ("^", YELLOW), ("s", BLUE),
            ("s", MAGENTA), ("D", CYAN), ("D", GRAY), ("^", DKRED), ("v", DKGREEN)]
MSIZE = {"o": 6.0, "v": 6.6, "^": 6.6, "s": 5.6, "D": 5.2}

SOLID = "-"
DOT = (0, (1.5, 1.5))
DASH = (0, (9, 4))
DASHDOTDOT = (0, (9, 3, 1.5, 3, 1.5, 3))
LONGDASH = (0, (14, 9))
DASHDOT = (0, (10, 3, 2, 3))
DASH2 = (0, (12, 4))

PANELS = [
    dict(rect=[0.0846, 0.8204, 0.4287, 0.1699], series=[P1_16, P1_8, P1_4, P1_2, P1_1, P1_05, P1_POS, P1_NEG],
         labels=LABELS_8, styles=STYLE_8, dashes=[SOLID] * 8, title=TITLES[0], txy=(0.009, 0.975),
         leg=(0.586, 0.534), fs=7.9, hl=2.9, htp=0.7, ylab=True, xlab=False),
    dict(rect=[0.5575, 0.8171, 0.4121, 0.1699], series=[P2_16, P2_8, P2_4, P2_2, P2_1, P2_05, P2_POS, P2_NEG],
         labels=LABELS_8, styles=STYLE_8, dashes=[SOLID] * 8, title=TITLES[1], txy=(0.007, 0.975),
         leg=(0.19, 0.58), fs=7.7, hl=2.9, htp=0.7, ylab=False, xlab=False),
    dict(rect=[0.0846, 0.6329, 0.4305, 0.1641], series=[P3_16, P3_8, P3_4, P3_2, P3_1, P3_05, P3_POS, P3_NEG],
         labels=LABELS_8, styles=STYLE_8, dashes=[SOLID] * 8, title=TITLES[2], txy=(0.009, 0.985),
         leg=(0.269, 0.53), fs=6.6, hl=2.9, htp=0.7, ylab=True, xlab=False),
    dict(rect=[0.5584, 0.6310, 0.4075, 0.1641], series=[P4_16, P4_8, P4_4, P4_2, P4_1, P4_05, P4_POS, P4_NEG],
         labels=LABELS_8, styles=STYLE_8,
         dashes=[SOLID, DOT, DASH, DASHDOTDOT, LONGDASH, DASHDOT, DASH2, SOLID], title=TITLES[3],
         txy=(0.04, 0.965), leg=(0.429, 0.589), fs=7.8, hl=6.6, htp=1.5, ylab=False, xlab=False),
    dict(rect=[0.0745, 0.4267, 0.4342, 0.1764], series=[P5_16, P5_8, P5_4, P5_2, P5_1, P5_05, P5_POS, P5_NEG],
         labels=LABELS_8, styles=STYLE_8, dashes=[SOLID] * 8, title=TITLES[4], txy=(0.061, 0.93),
         leg=(0.5, 0.57), fs=8.1, hl=2.6, htp=0.7, ylab=True, xlab=False),
    dict(rect=[0.5520, 0.4293, 0.4167, 0.1777],
         series=[P6_16, P6_8, P6_4, P6_2, P6_1, P6_05, P6_025A, P6_025B, P6_POS, P6_NEG],
         labels=LABELS_10, styles=STYLE_10,
         dashes=[SOLID, DOT, DASH, DASHDOTDOT, LONGDASH, DASHDOT, DASH2, SOLID, DOT, DASH],
         title=TITLES[5], txy=(0.055, 0.96), leg=(0.347, 0.631), fs=8.0, hl=6.4, htp=1.5, ylab=False, xlab=False),
    dict(rect=[0.0672, 0.2198, 0.4195, 0.1803],
         series=[P7_16, P7_8, P7_4, P7_2, P7_1, P7_05, P7_025, P7_POS, P7_NEG],
         labels=LABELS_9, styles=STYLE_9, dashes=[SOLID] * 9, title=TITLES[6], txy=(0.081, 0.955),
         leg=(0.349, 0.619), fs=7.9, hl=2.6, htp=0.7, ylab=True, xlab=False),
    dict(rect=[0.5363, 0.2173, 0.4361, 0.1770],
         series=[P8_16, P8_8, P8_4, P8_2, P8_1, P8_05, P8_025, P8_POS, P8_NEG],
         labels=LABELS_9, styles=STYLE_9, dashes=[SOLID] * 9, title=TITLES[7], txy=(0.021, 0.958),
         leg=(0.379, 0.619), fs=8.1, hl=2.6, htp=0.7, ylab=False, xlab=False),
    dict(rect=[0.0764, 0.0285, 0.4269, 0.1673],
         series=[P9_16, P9_8, P9_4, P9_2, P9_1, P9_05, P9_025, P9_POS, P9_NEG],
         labels=LABELS_9, styles=STYLE_9, dashes=[SOLID] * 9, title=TITLES[8], txy=(0.045, 0.962),
         leg=(0.478, 0.64), fs=8.0, hl=2.6, htp=0.7, ylab=True, xlab=True),
    dict(rect=[0.5538, 0.0272, 0.4296, 0.1647],
         series=[P10_16, P10_8, P10_4, P10_2, P10_1, P10_05, P10_025, P10_POS, P10_NEG],
         labels=LABELS_9, styles=STYLE_9, dashes=[SOLID] * 9, title=TITLES[9], txy=(0.017, 0.968),
         leg=(0.51, 0.63), fs=8.0, hl=2.6, htp=0.7, ylab=False, xlab=True),
]

# ======================= PLOT =======================
sns.set_theme(style="ticks")
plt.rcParams["font.family"] = ["DejaVu Sans"]
plt.rcParams["mathtext.fontset"] = "custom"
plt.rcParams["mathtext.rm"] = "Liberation Serif"
plt.rcParams["mathtext.it"] = "Liberation Serif:italic"
plt.rcParams["mathtext.bf"] = "Liberation Serif:bold"
plt.rcParams["mathtext.sf"] = "DejaVu Sans"


def to_frame(segs):
    t, v = [], []
    for t0, t1, vals in segs:
        t.extend(np.linspace(t0, t1, len(vals)).tolist())
        v.extend(vals)
    return pd.DataFrame({"t": t, "v": v})


fig = plt.figure(figsize=(10.87, 15.42), dpi=100)
fig.patch.set_facecolor("white")

for cfg in PANELS:
    ax = fig.add_axes(cfg["rect"])
    ax.set_facecolor("white")
    for segs, lab, (mk, col), ls in zip(cfg["series"], cfg["labels"], cfg["styles"], cfg["dashes"]):
        df = to_frame(segs)
        sns.lineplot(data=df, x="t", y="v", ax=ax, color="black", linewidth=0.7,
                     linestyle=ls, marker=mk, markersize=MSIZE[mk], markerfacecolor=col,
                     markeredgecolor=col, markeredgewidth=0.0, label=lab,
                     errorbar=None, legend=False, clip_on=False)
    ax.set_xlim(0, 3300)
    ax.set_ylim(0, 120)
    ax.set_xticks(X_TICKS)
    ax.set_yticks(Y_TICKS)
    ax.tick_params(labelsize=8.3, length=3, width=0.8, direction="out", pad=2, colors="#222222")
    for sp in ax.spines.values():
        sp.set_linewidth(0.9)
        sp.set_color("#333333")
        sp.set_visible(True)
    ax.set_xlabel("Time (min.)" if cfg["xlab"] else "", fontsize=10, labelpad=4)
    ax.set_ylabel("pO$_\\mathsf{2}$ %" if cfg["ylab"] else "", fontsize=9.5, labelpad=12)
    ax.text(cfg["txy"][0], cfg["txy"][1], cfg["title"], transform=ax.transAxes,
            ha="left", va="top", fontsize=22, family="Liberation Serif", zorder=10)
    handles, labs = ax.get_legend_handles_labels()
    leg = ax.legend(handles, labs, loc="upper left", bbox_to_anchor=cfg["leg"],
                    bbox_transform=ax.transAxes, fontsize=cfg["fs"], frameon=True,
                    fancybox=False, shadow=False, framealpha=1.0, edgecolor="#222222",
                    handlelength=cfg["hl"], handletextpad=cfg["htp"], labelspacing=0.05,
                    borderpad=0.55, borderaxespad=0.0, numpoints=1)
    leg.get_frame().set_linewidth(1.2)

fig.savefig("out.png", dpi=100, facecolor="white")
